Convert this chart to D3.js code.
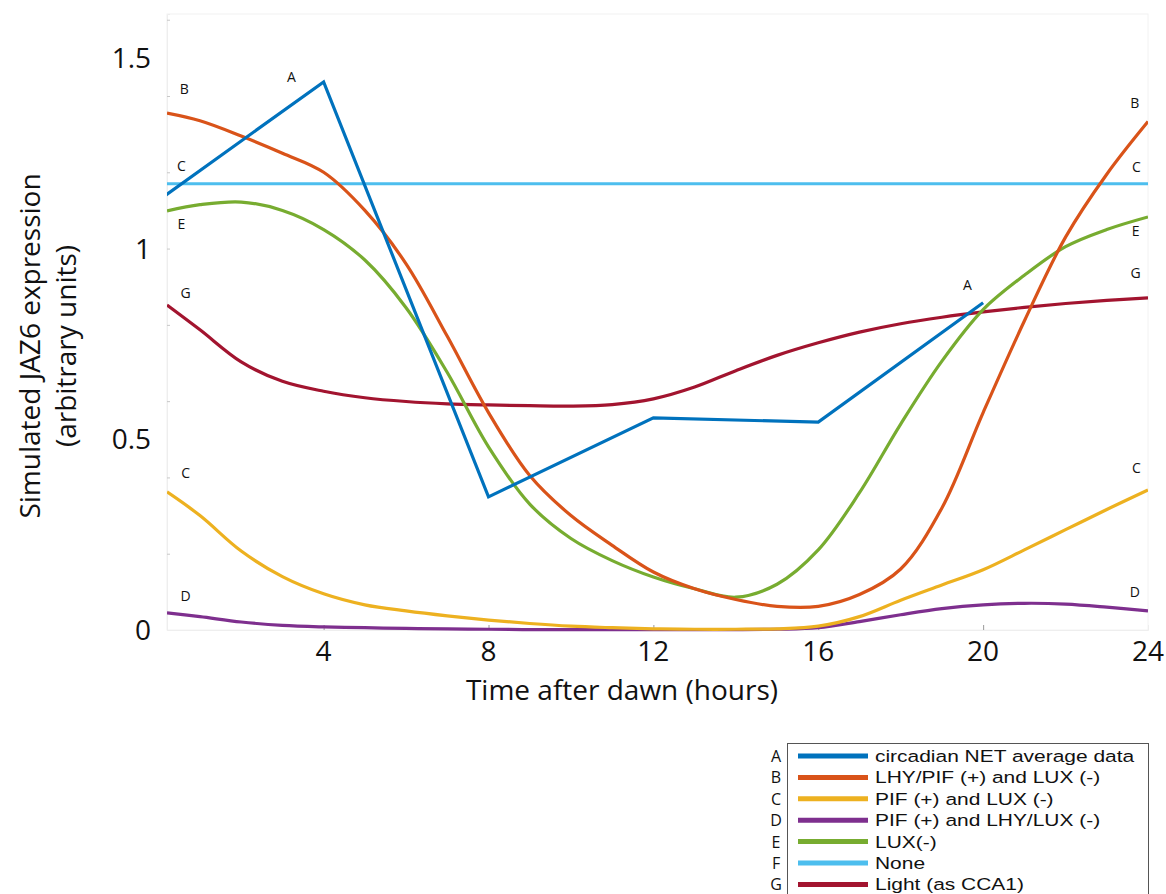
<!DOCTYPE html>
<html lang="en">
  <head>
    <meta charset="UTF-8" />
    <title>Simulated JAZ6 expression</title>
    <style>
      body {
        margin: 0;
        background: #ffffff;
      }
      svg {
        display: block;
      }
    </style>
    <script src="https://d3js.org/d3.v7.min.js"></script>
  </head>
  <body>
    <svg id="chart"></svg>
    <script>
      // model time points (hours after dawn) for the simulated curves
      const hours = [0.2, 1, 2, 3, 4, 5, 6, 7, 8, 9, 10, 11, 12, 13, 14, 15, 16, 17, 18, 19, 20, 21, 22, 23, 24];

      // A: circadian NET average data (measured, 4 h sampling)
      const hoursA = [0, 4, 8, 12, 16, 20];
      const valuesA = [1.127, 1.437, 0.349, 0.556, 0.545, 0.858];

      // B: LHY/PIF (+) and LUX (-)
      const valuesB = [1.355, 1.335, 1.295, 1.25, 1.2, 1.1, 0.96, 0.77, 0.57, 0.405, 0.3, 0.222, 0.152, 0.108, 0.08, 0.062, 0.062, 0.093, 0.16, 0.32, 0.57, 0.81, 1.03, 1.195, 1.333];
      // C: PIF (+) and LUX (-)
      const valuesC = [0.362, 0.3, 0.207, 0.14, 0.095, 0.066, 0.05, 0.037, 0.026, 0.017, 0.01, 0.006, 0.003, 0.002, 0.002, 0.003, 0.01, 0.035, 0.078, 0.118, 0.158, 0.21, 0.263, 0.316, 0.367];
      // D: PIF (+) and LHY/LUX (-)
      const valuesD = [0.045, 0.035, 0.021, 0.012, 0.008, 0.006, 0.004, 0.003, 0.002, 0.001, 0.001, 0.001, 0.001, 0.001, 0.001, 0.002, 0.006, 0.022, 0.04, 0.056, 0.066, 0.07, 0.068, 0.06, 0.05];
      // E: LUX(-)
      const valuesE = [1.099, 1.115, 1.122, 1.1, 1.05, 0.97, 0.845, 0.675, 0.48, 0.33, 0.24, 0.182, 0.139, 0.108, 0.086, 0.12, 0.21, 0.36, 0.54, 0.705, 0.84, 0.93, 1.005, 1.05, 1.083];
      // F: None (flat)
      const hoursF = [0.2, 24];
      const valuesF = [1.17, 1.17];
      // G: Light (as CCA1)
      const valuesG = [0.852, 0.787, 0.703, 0.652, 0.626, 0.609, 0.599, 0.593, 0.59, 0.588, 0.587, 0.591, 0.606, 0.637, 0.68, 0.72, 0.753, 0.781, 0.803, 0.82, 0.834, 0.846, 0.856, 0.864, 0.871];

      const xTicks = [4, 8, 12, 16, 20, 24];
      const yTicks = [0, 0.5, 1, 1.5];

      const legendKeys = ["A", "B", "C", "D", "E", "F", "G"];
      const legendNames = [
        "circadian NET average data",
        "LHY/PIF (+) and LUX (-)",
        "PIF (+) and LUX (-)",
        "PIF (+) and LHY/LUX (-)",
        "LUX(-)",
        "None",
        "Light (as CCA1)",
      ];
      const colors = ["#0072bd", "#d95319", "#edb120", "#7e2f8e", "#77ac30", "#4dbeee", "#a2142f"];

      // letter tags written on the curves
      const tagText = ["B", "C", "E", "G", "C", "D", "A", "A", "B", "C", "E", "G", "C", "D"];
      const tagHour = [0.62, 0.55, 0.55, 0.65, 0.65, 0.65, 3.22, 19.62, 23.68, 23.72, 23.7, 23.7, 23.72, 23.68];
      const tagValue = [1.419, 1.217, 1.065, 0.884, 0.412, 0.089, 1.45, 0.905, 1.382, 1.214, 1.047, 0.936, 0.425, 0.1];

      const width = 1166;
      const height = 894;
      const margin = { top: 14, right: 18, bottom: 264, left: 167 };

      const svg = d3.select("#chart").attr("width", width).attr("height", height);

      const x = d3
        .scaleLinear()
        .domain([0.2, 24])
        .range([margin.left, width - margin.right]);

      const y = d3
        .scaleLinear()
        .domain([0, 1.615])
        .range([height - margin.bottom, margin.top]);

      const font = "'Open Sans', 'Noto Sans', sans-serif";

      svg
        .append("defs")
        .append("clipPath")
        .attr("id", "plot-clip")
        .append("rect")
        .attr("x", x.range()[0])
        .attr("y", y.range()[1])
        .attr("width", x.range()[1] - x.range()[0])
        .attr("height", y.range()[0] - y.range()[1] + 3);

      // faint frame of the plot area
      svg
        .append("rect")
        .attr("x", x.range()[0])
        .attr("y", y.range()[1])
        .attr("width", x.range()[1] - x.range()[0])
        .attr("height", y.range()[0] - y.range()[1])
        .attr("fill", "none")
        .attr("stroke", "#f2f2f2")
        .attr("stroke-width", 1);

      // bottom axis: small inward ticks, labels below
      const xAxis = svg
        .append("g")
        .attr("transform", `translate(0,${y(0)})`)
        .call(d3.axisBottom(x).tickValues(xTicks.filter((d) => d < 24)).tickSize(-5).tickFormat(""));
      xAxis.select(".domain").attr("stroke", "#eeeeee");
      xAxis.selectAll(".tick line").attr("stroke", "#9a9a9a");

      svg
        .append("g")
        .selectAll("text")
        .data(xTicks)
        .join("text")
        .attr("x", (d) => x(d))
        .attr("y", y(0) + 31)
        .attr("text-anchor", "middle")
        .attr("font-family", font)
        .attr("font-size", 28)
        .attr("fill", "#111")
        .text((d) => d);

      // left axis: faint minor ticks, labels at 0.5 steps
      const yAxis = svg
        .append("g")
        .attr("transform", `translate(${x.range()[0]},0)`)
        .call(d3.axisLeft(y).tickValues(d3.range(0.2, 1.61, 0.2)).tickSize(-3).tickFormat(""));
      yAxis.select(".domain").attr("stroke", "#eeeeee");
      yAxis.selectAll(".tick line").attr("stroke", "#c8c8c8");

      svg
        .append("g")
        .selectAll("text")
        .data(yTicks)
        .join("text")
        .attr("x", x.range()[0] - 16)
        .attr("y", (d) => y(d) + 10)
        .attr("text-anchor", "end")
        .attr("font-family", font)
        .attr("font-size", 28)
        .attr("fill", "#111")
        .text((d) => d);

      // axis titles
      svg
        .append("text")
        .attr("x", 622)
        .attr("y", 700)
        .attr("text-anchor", "middle")
        .attr("font-family", font)
        .attr("font-size", 28)
        .attr("fill", "#111")
        .text("Time after dawn (hours)");

      const yTitle = svg
        .append("text")
        .attr("transform", "translate(40,346) rotate(-90)")
        .attr("text-anchor", "middle")
        .attr("font-family", font)
        .attr("font-size", 28)
        .attr("fill", "#111");
      yTitle.append("tspan").attr("x", 0).attr("y", 0).text("Simulated JAZ6 expression");
      yTitle.append("tspan").attr("x", 0).attr("y", 36).text("(arbitrary units)");

      // curves
      const smooth = d3
        .line()
        .x((d) => x(d[0]))
        .y((d) => y(d[1]))
        .curve(d3.curveCatmullRom.alpha(0.5));

      const straight = d3
        .line()
        .x((d) => x(d[0]))
        .y((d) => y(d[1]));

      const series = [
        { key: "F", pts: d3.zip(hoursF, valuesF), line: straight, color: colors[5] },
        { key: "D", pts: d3.zip(hours, valuesD), line: smooth, color: colors[3] },
        { key: "C", pts: d3.zip(hours, valuesC), line: smooth, color: colors[2] },
        { key: "G", pts: d3.zip(hours, valuesG), line: smooth, color: colors[6] },
        { key: "E", pts: d3.zip(hours, valuesE), line: smooth, color: colors[4] },
        { key: "B", pts: d3.zip(hours, valuesB), line: smooth, color: colors[1] },
        { key: "A", pts: d3.zip(hoursA, valuesA), line: straight, color: colors[0] },
      ];

      svg
        .append("g")
        .attr("clip-path", "url(#plot-clip)")
        .selectAll("path")
        .data(series)
        .join("path")
        .attr("d", (d) => d.line(d.pts))
        .attr("fill", "none")
        .attr("stroke", (d) => d.color)
        .attr("stroke-width", 3.2)
        .attr("stroke-linejoin", "miter");

      // letter tags
      svg
        .append("g")
        .selectAll("text")
        .data(tagText)
        .join("text")
        .attr("x", (d, i) => x(tagHour[i]))
        .attr("y", (d, i) => y(tagValue[i]) + 5)
        .attr("text-anchor", "middle")
        .attr("font-family", font)
        .attr("font-size", 14)
        .attr("fill", "#111")
        .text((d) => d);

      // legend
      const lg = svg.append("g").attr("transform", "translate(787,743)");
      const rowH = 21.4;

      lg.append("rect")
        .attr("x", 0.5)
        .attr("y", 0.5)
        .attr("width", 361)
        .attr("height", 170)
        .attr("fill", "#fff")
        .attr("stroke", "#555")
        .attr("stroke-width", 1);

      const rows = lg
        .selectAll("g.row")
        .data(legendKeys)
        .join("g")
        .attr("class", "row")
        .attr("transform", (d, i) => `translate(0,${13 + i * rowH})`);

      rows
        .append("text")
        .attr("x", -11)
        .attr("y", 6)
        .attr("text-anchor", "middle")
        .attr("font-family", font)
        .attr("font-size", 16)
        .attr("fill", "#111")
        .text((d) => d);

      rows
        .append("line")
        .attr("x1", 11)
        .attr("x2", 81)
        .attr("y1", 0)
        .attr("y2", 0)
        .attr("stroke", (d, i) => colors[i])
        .attr("stroke-width", 5);

      rows
        .append("text")
        .attr("transform", "translate(88,6) scale(1.27,1)")
        .attr("font-family", "'Liberation Sans', Arial, sans-serif")
        .attr("font-size", 16.5)
        .attr("fill", "#111")
        .text((d, i) => legendNames[i]);
    </script>
  </body>
</html>
